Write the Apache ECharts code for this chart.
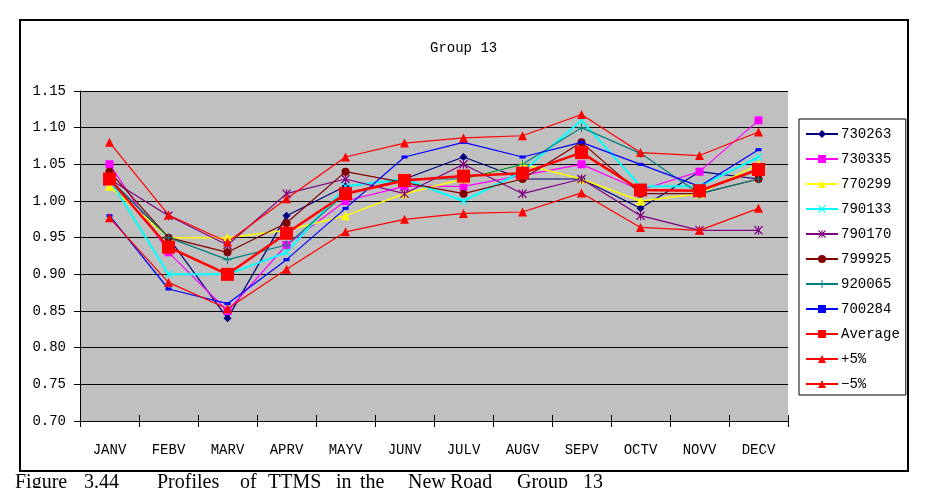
<!DOCTYPE html>
<html>
<head>
<meta charset="utf-8">
<script src="https://cdn.jsdelivr.net/npm/echarts/dist/echarts.min.js"></script>
<style>
  html, body { margin: 0; padding: 0; background: #fff; }
  #chart { width: 925px; height: 488px; }
</style>
</head>
<body>
<div id="chart"></div>
<script>
// month categories and y ticks
const categories = ['JANV', 'FEBV', 'MARV', 'APRV', 'MAYV', 'JUNV', 'JULV', 'AUGV', 'SEPV', 'OCTV', 'NOVV', 'DECV'];
const yTicks = [0.70, 0.75, 0.80, 0.85, 0.90, 0.95, 1.00, 1.05, 1.10, 1.15];

// values
const s730263 = [1.03, 0.95, 0.84, 0.98, 1.02, 1.03, 1.06, 1.03, 1.03, 0.99, 1.04, 1.03];
const s730335 = [1.05, 0.93, 0.85, 0.94, 1.00, 1.02, 1.02, 1.035, 1.05, 1.015, 1.04, 1.11];
const s770299 = [1.02, 0.95, 0.95, 0.96, 0.98, 1.01, 1.03, 1.05, 1.03, 1.00, 1.01, 1.05];
const s790133 = [1.03, 0.90, 0.90, 0.93, 1.02, 1.03, 1.00, 1.04, 1.11, 1.02, 1.02, 1.06];
const s790170 = [1.03, 0.98, 0.94, 1.01, 1.03, 1.01, 1.05, 1.01, 1.03, 0.98, 0.96, 0.96];
const s799925 = [1.04, 0.95, 0.93, 0.97, 1.04, 1.025, 1.01, 1.03, 1.08, 1.01, 1.01, 1.03];
const s920065 = [1.03, 0.95, 0.92, 0.94, 1.01, 1.03, 1.03, 1.05, 1.10, 1.065, 1.01, 1.03];
const s700284 = [0.98, 0.88, 0.86, 0.92, 0.99, 1.06, 1.08, 1.06, 1.08, 1.05, 1.02, 1.07];
const average = [1.03, 0.937, 0.90, 0.956, 1.01, 1.028, 1.034, 1.038, 1.066, 1.015, 1.014, 1.043];
const plus5 = [1.08, 0.981, 0.944, 1.003, 1.06, 1.079, 1.086, 1.089, 1.118, 1.066, 1.062, 1.094];
const minus5 = [0.977, 0.889, 0.853, 0.907, 0.958, 0.975, 0.983, 0.985, 1.011, 0.964, 0.96, 0.99];

// caption words (text is justified in the source, so words are placed one by one)
const captionWords = ['Figure', '3.44', 'Profiles', 'of', 'TTMS', 'in', 'the', 'New', 'Road', 'Group', '13'];
const captionX = [15, 84, 157, 240, 268, 336, 360, 408, 450, 517, 583];

// marker shapes Excel uses that echarts lacks
const xMark = 'path://M0,1L1,0L5,4L9,0L10,1L6,5L10,9L9,10L5,6L1,10L0,9L4,5Z';
const plusMark = 'path://M4.4,0H5.6V4.4H10V5.6H5.6V10H4.4V5.6H0V4.4H4.4Z';
const starMark = 'path://M0,1L1,0L5,4L9,0L10,1L6,5L10,9L9,10L5,6L1,10L0,9L4,5Z M4.4,0H5.6V10H4.4Z';

const monoFont = '"Liberation Mono", monospace';

function line(name, data, color, symbol, size, width) {
  return {
    name: name,
    type: 'line',
    data: data,
    symbol: symbol,
    symbolSize: size,
    showSymbol: true,
    lineStyle: { color: color, width: width || 1.2 },
    itemStyle: { color: color },
    emphasis: { disabled: true }
  };
}

const chart = echarts.init(document.getElementById('chart'));

const graphics = [{
  type: 'rect',
  z: -10,
  shape: { x: 20, y: 20, width: 888, height: 451 },
  style: { fill: 'none', stroke: '#000', lineWidth: 2 }
}];
captionWords.forEach(function (w, i) {
  graphics.push({
    type: 'text',
    x: captionX[i],
    y: 473,
    style: { text: w, font: '20px "Liberation Serif", serif', fill: '#000' }
  });
});

const option = {
  animation: false,
  backgroundColor: '#fff',
  graphic: graphics,
  title: {
    text: 'Group 13',
    left: 425,
    top: 36,
    textStyle: { fontFamily: monoFont, fontSize: 14, fontWeight: 'normal', color: '#000' }
  },
  legend: {
    orient: 'vertical',
    left: 799,
    top: 119,
    width: 107,
    padding: [8, 6, 4, 6],
    itemWidth: 32,
    itemHeight: 10,
    itemGap: 11,
    borderColor: '#000',
    borderWidth: 1,
    backgroundColor: '#fff',
    textStyle: { fontFamily: monoFont, fontSize: 14, color: '#000', lineHeight: 14, padding: [0, 0, 0, -2] },
    data: ['730263', '730335', '770299', '790133', '790170', '799925', '920065', '700284', 'Average', '+5%', '−5%']
  },
  grid: {
    left: 80,
    right: 137,
    top: 91,
    bottom: 67,
    show: true,
    backgroundColor: '#C0C0C0',
    borderWidth: 0
  },
  xAxis: [{
    type: 'category',
    data: categories,
    boundaryGap: true,
    axisLine: { lineStyle: { color: '#000', width: 1 } },
    axisTick: { show: true, length: 6, lineStyle: { color: '#000' } },
    axisLabel: { margin: 22, fontFamily: monoFont, fontSize: 14, color: '#000', interval: 0 },
    splitLine: { show: false }
  }, {
    type: 'category',
    data: categories,
    position: 'bottom',
    boundaryGap: true,
    axisLine: { show: false },
    axisTick: { show: true, inside: true, length: 6, lineStyle: { color: '#000' } },
    axisLabel: { show: false },
    splitLine: { show: false }
  }],
  yAxis: {
    type: 'value',
    min: yTicks[0],
    max: yTicks[yTicks.length - 1],
    interval: 0.05,
    axisLine: { show: true, lineStyle: { color: '#000', width: 1 } },
    axisTick: { show: true, length: 6, lineStyle: { color: '#000' } },
    axisLabel: {
      margin: 14,
      fontFamily: monoFont,
      fontSize: 14,
      color: '#000',
      formatter: function (v) { return v.toFixed(2); }
    },
    splitLine: { show: true, lineStyle: { color: '#000', width: 1 } }
  },
  series: [
    line('730263', s730263, '#000080', 'diamond', 8),
    line('730335', s730335, '#FF00FF', 'rect', 8),
    line('770299', s770299, '#FFFF00', 'triangle', 9, 1.5),
    line('790133', s790133, '#00FFFF', xMark, 8, 2),
    line('790170', s790170, '#800080', starMark, 9),
    line('799925', s799925, '#800000', 'circle', 8),
    line('920065', s920065, '#008080', plusMark, 9),
    line('700284', s700284, '#0000FF', 'rect', [6, 3]),
    line('Average', average, '#FF0000', 'rect', 13, 2.5),
    line('+5%', plus5, '#FF0000', 'triangle', 9),
    line('−5%', minus5, '#FF0000', 'triangle', 9)
  ]
};

chart.setOption(option);
</script>
</body>
</html>
